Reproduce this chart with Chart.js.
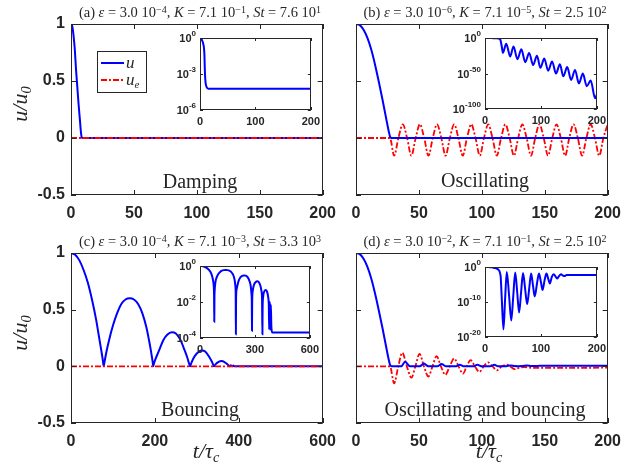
<!DOCTYPE html>
<html>
<head>
<meta charset="utf-8">
<script src="https://cdn.jsdelivr.net/npm/chart.js@4.4.0/dist/chart.umd.min.js"></script>
<style>
  body { margin: 0; background: #fff; }
  #page { position: relative; width: 640px; height: 469px; overflow: hidden; background: #fff; color: #262626; font-family: "Liberation Serif", serif; }
  canvas { position: absolute; }
  .txt { position: absolute; white-space: nowrap; transform: translate(-50%, -50%); line-height: 1; }
  .ttl { font-size: 14.5px; }
  .ann { font-size: 20px; }
  .lab { font-size: 22px; font-style: italic; }
  .rot { transform: translate(-50%, -50%) rotate(-90deg); }
  sup { font-size: 10px; position: relative; top: -0.45em; vertical-align: baseline; line-height: 0; }
  sub { font-size: 0.65em; position: relative; top: 0.3em; vertical-align: baseline; line-height: 0; }
  #legend { position: absolute; left: 97px; top: 51px; width: 48px; height: 40px; border: 1px solid #262626; background: #fff; }
  #legend svg { position: absolute; left: 0; top: 0; }
  #legend span { position: absolute; font-style: italic; font-size: 17px; line-height: 1; }
</style>
</head>
<body>
<div id="page">
  <canvas id="mainA" width="345" height="225" style="left:0;top:0"></canvas>
  <canvas id="mainB" width="330" height="225" style="left:300px;top:0"></canvas>
  <canvas id="mainC" width="345" height="224" style="left:0;top:229px"></canvas>
  <canvas id="mainD" width="330" height="224" style="left:300px;top:229px"></canvas>
  <canvas id="insetA" width="163" height="98" style="left:162px;top:30px"></canvas>
  <canvas id="insetB" width="166" height="97" style="left:445px;top:30px"></canvas>
  <canvas id="insetC" width="162" height="98" style="left:162px;top:258px"></canvas>
  <canvas id="insetD" width="164" height="96" style="left:447px;top:259px"></canvas>

  <div class="txt ttl" style="left:200px;top:12px">(a) <i>ε</i> = 3.0 10<sup>−4</sup>, <i>K</i> = 7.1 10<sup>−1</sup>, <i>St</i> = 7.6 10<sup>1</sup></div>
  <div class="txt ttl" style="left:485px;top:12px">(b) <i>ε</i> = 3.0 10<sup>−6</sup>, <i>K</i> = 7.1 10<sup>−5</sup>, <i>St</i> = 2.5 10<sup>2</sup></div>
  <div class="txt ttl" style="left:200px;top:241px">(c) <i>ε</i> = 3.0 10<sup>−4</sup>, <i>K</i> = 7.1 10<sup>−3</sup>, <i>St</i> = 3.3 10<sup>3</sup></div>
  <div class="txt ttl" style="left:485px;top:241px">(d) <i>ε</i> = 3.0 10<sup>−2</sup>, <i>K</i> = 7.1 10<sup>−1</sup>, <i>St</i> = 2.5 10<sup>2</sup></div>

  <div class="txt ann" style="left:200px;top:181px">Damping</div>
  <div class="txt ann" style="left:485px;top:180px">Oscillating</div>
  <div class="txt ann" style="left:200px;top:409px">Bouncing</div>
  <div class="txt ann" style="left:485px;top:409px">Oscillating and bouncing</div>

  <div class="txt lab rot" style="left:20px;top:104px">u/u<sub>0</sub></div>
  <div class="txt lab rot" style="left:20px;top:333px">u/u<sub>0</sub></div>
  <div class="txt lab" style="left:206px;top:451px">t/τ<sub>c</sub></div>
  <div class="txt lab" style="left:489px;top:451px">t/τ<sub>c</sub></div>

  <div id="legend">
    <svg width="48" height="40">
      <line x1="3" y1="11" x2="26" y2="11" stroke="#0000ff" stroke-width="2"/>
      <line x1="3" y1="28" x2="26" y2="28" stroke="#ff0000" stroke-width="2" stroke-dasharray="6 2 2 2"/>
    </svg>
    <span style="left:28px;top:2px">u</span>
    <span style="left:28px;top:19px">u<sub>e</sub></span>
  </div>
</div>

<script>
// ---- data ----
// (a) damping
const tA = [0, 1, 2, 3, 4, 5, 6, 7, 8, 8.5, 9, 10, 12, 15, 200];
const uA = [1, 0.98, 0.9, 0.78, 0.6, 0.45, 0.3, 0.17, 0.04, 0.005, 1e-3, 2e-4, 8e-5, 6e-5, 6e-5];
const tAe = [0, 200];
const uAe = [0, 0];

// (b) oscillating
const tB = [0, 3, 6, 9, 12, 15, 18, 21, 24, 26, 27, 28, 30, 32, 38, 45, 51, 58, 65, 72, 79, 86, 93, 99,
  106, 113, 120, 127, 134, 140, 147, 154, 161, 168, 175, 182, 189, 197, 200];
const uB = [1, 0.99, 0.95, 0.88, 0.78, 0.65, 0.5, 0.34, 0.17, 0.06, 0.015, 1e-4, 1e-12, 1e-21, 1e-8, 1e-26,
  1e-12, 1e-30, 1e-16, 1e-34, 1e-21, 1e-38, 1e-25, 1e-42, 1e-29, 1e-46, 1e-33, 1e-50, 1e-37, 1e-54,
  1e-41, 1e-59, 1e-45, 1e-64, 1e-50, 1e-68, 1e-60, 1e-85, 1e-80];
const tBe = [0, 27, 30.3, 33.7, 37.2, 40.6, 44, 47.4, 50.8, 54.2, 57.6, 61, 64.4, 67.8, 71.2, 74.6, 78,
  81.4, 84.8, 88.2, 91.6, 95, 98.4, 101.7, 105.1, 108.5, 111.9, 115.3, 118.7, 122.1, 125.5, 128.9,
  132.2, 135.6, 139.1, 142.4, 145.8, 149.2, 152.6, 156, 159.4, 162.8, 166.2, 169.5, 172.9, 176.3,
  179.7, 183.1, 186.5, 189.9, 193.3, 196.6, 200];
const uBe = [0, 0, -0.155, 0, 0.12, 0, -0.155, 0, 0.12, 0, -0.155, 0, 0.12, 0, -0.155, 0, 0.12,
  0, -0.155, 0, 0.12, 0, -0.155, 0, 0.12, 0, -0.155, 0, 0.12, 0, -0.155, 0,
  0.12, 0, -0.155, 0, 0.12, 0, -0.155, 0, 0.12, 0, -0.155, 0, 0.12, 0,
  -0.155, 0, 0.12, 0, -0.155, 0, 0.12];

// (c) bouncing
const tC = [0, 10, 20, 30, 40, 50, 60, 65, 70, 74, 76, 77, 78, 79, 80, 84, 90, 100, 110, 120,
  130, 140, 150, 160, 170, 180, 186, 190, 193, 195, 196, 197, 200, 210, 220, 230, 240, 250, 260, 270,
  277, 281, 283, 284, 285, 288, 295, 305, 312, 320, 330, 336, 339, 341, 342, 345, 352, 359, 366, 372,
  376, 378, 379, 381, 383, 385, 387, 390, 395, 600];
const uC = [1, 0.985, 0.935, 0.85, 0.74, 0.59, 0.41, 0.3, 0.19, 0.1, 0.05, 0.02, 8e-4, 0.02, 0.04, 0.12, 0.22, 0.36, 0.47, 0.55,
  0.59, 0.6, 0.59, 0.55, 0.47, 0.34, 0.23, 0.15, 0.08, 0.03, 1.6e-4, 0.015, 0.05, 0.14, 0.23, 0.28, 0.3, 0.29, 0.24, 0.15,
  0.08, 0.03, 0.01, 2.5e-4, 0.01, 0.04, 0.09, 0.13, 0.14, 0.13, 0.08, 0.04, 0.015, 1.6e-4, 0.004, 0.02, 0.04, 0.046, 0.038, 0.02,
  0.006, 3e-4, 0.002, 0.01, 0.004, 3e-4, 0.007, 4e-4, 2e-4, 2e-4];
const tCe = [0, 600];
const uCe = [0, 0];

// (d) oscillating and bouncing
const tD = [0, 3, 6, 9, 12, 15, 18, 21, 24, 26, 27, 28, 30, 33, 36, 39, 43, 47, 50.5, 54,
  57.5, 61, 64.5, 68, 71.7, 75.4, 79, 82.5, 86, 89, 93, 96.5, 100, 103, 106.5, 110, 113, 116, 119.5, 123,
  126, 129, 132, 136, 139, 142, 146, 150, 200];
const uD = [1, 0.99, 0.95, 0.88, 0.78, 0.65, 0.5, 0.34, 0.17, 0.06, 0.015, 2e-3, 1e-9, 1.5e-18, 1e-9, 0.04, 1e-8, 5e-16, 4e-9, 0.025,
  1e-7, 1e-13, 5e-8, 0.02, 7e-7, 2.5e-11, 6e-7, 0.013, 3e-6, 4e-9, 2e-5, 0.013, 5e-5, 2.5e-7, 1.5e-4, 0.013, 5e-4, 2e-5, 1.5e-3, 0.008,
  2e-3, 5e-4, 2e-3, 0.008, 4e-3, 2.5e-3, 0.005, 0.005, 0.005];
const tDe = [0, 27, 30.3, 33.6, 36.8, 40.4, 44, 47.2, 50.5, 54, 57.5, 60.8, 64, 67.5, 71, 74.5, 78, 81.5, 85, 88,
  91, 94.5, 98, 101.5, 105, 108.5, 112, 116, 120, 123, 126, 130, 134, 138, 145, 200];
const uDe = [0, 0, -0.15, 0, 0.12, 0, -0.1, 0, 0.11, 0, -0.09, 0, 0.09, 0, -0.075, 0, 0.07, 0, -0.065, 0,
  0.055, 0, -0.05, 0, 0.035, 0, -0.035, 0, 0.015, -0.005, -0.025, -0.012, -0.006, -0.012, -0.014, -0.012];

// ticks
const mainYTicks = [-0.5, 0, 0.5, 1];
const mainYLabels = ['-0.5', '0', '0.5', '1'];
const xTicks200 = [0, 50, 100, 150, 200];
const xTicks600 = [0, 200, 400, 600];
const insetX200 = [0, 100, 200];
const insetX600 = [0, 300, 600];
const insetYA = [1e-6, 1e-3, 1];
const insetExpA = ['-6', '-3', '0'];
const insetYB = [1e-100, 1e-50, 1];
const insetExpB = ['-100', '-50', '0'];
const insetYC = [1e-4, 1e-2, 1];
const insetExpC = ['-4', '-2', '0'];
const insetYD = [1e-20, 1e-10, 1];
const insetExpD = ['-20', '-10', '0'];

const BLUE = '#0000ff';
const RED = '#ff0000';
const AXIS = '#262626';
const SANS = '"Liberation Sans", Arial, sans-serif';

function pts(t, u) {
  return t.map((v, i) => ({ x: v, y: u[i] }));
}

// box + inward ticks on all four sides, like the original
const framePlugin = {
  id: 'frame',
  beforeDraw(chart, args, o) {
    if (!o.fill) return;
    const a = chart.chartArea;
    const ctx = chart.ctx;
    ctx.save();
    ctx.fillStyle = '#fff';
    ctx.fillRect(a.left, a.top, a.right - a.left, a.bottom - a.top);
    ctx.restore();
  },
  afterDraw(chart, args, o) {
    const { ctx, chartArea: a } = chart;
    const x = chart.scales.x, y = chart.scales.y;
    const len = o.len || 4;
    ctx.save();
    ctx.strokeStyle = AXIS;
    ctx.lineWidth = 1;
    ctx.strokeRect(Math.round(a.left) + 0.5, Math.round(a.top) + 0.5,
      Math.round(a.right - a.left) - 1, Math.round(a.bottom - a.top) - 1);
    ctx.beginPath();
    x.ticks.forEach(tk => {
      const px = Math.round(x.getPixelForValue(tk.value)) + 0.5;
      ctx.moveTo(px, a.bottom); ctx.lineTo(px, a.bottom - len);
      ctx.moveTo(px, a.top); ctx.lineTo(px, a.top + len);
    });
    y.ticks.forEach(tk => {
      const py = Math.round(y.getPixelForValue(tk.value)) + 0.5;
      ctx.moveTo(a.left, py); ctx.lineTo(a.left + len, py);
      ctx.moveTo(a.right, py); ctx.lineTo(a.right - len, py);
    });
    ctx.stroke();

    // "10" with a raised exponent for the log axes
    if (o.exps) {
      ctx.fillStyle = AXIS;
      ctx.textBaseline = 'middle';
      y.ticks.forEach((tk, i) => {
        const py = y.getPixelForValue(tk.value);
        const right = a.left - 4;
        ctx.font = 'bold 8px ' + SANS;
        ctx.textAlign = 'right';
        const ew = ctx.measureText(o.exps[i]).width;
        ctx.fillText(o.exps[i], right, py - 4);
        ctx.font = 'bold 11px ' + SANS;
        ctx.fillText('10', right - ew, py + 1);
      });
    }
    ctx.restore();
  }
};

function makeChart(id, c) {
  const font = { family: SANS, weight: 'bold', size: c.fontSize };
  return new Chart(document.getElementById(id), {
    type: 'line',
    data: { datasets: c.datasets },
    options: {
      responsive: false,
      animation: false,
      devicePixelRatio: 1,
      layout: { padding: { left: 0, top: c.padTop, right: c.padRight, bottom: 0 } },
      elements: { point: { radius: 0 }, line: { cubicInterpolationMode: 'monotone' } },
      plugins: {
        legend: { display: false },
        tooltip: { enabled: false },
        frame: { len: c.tickLen, fill: c.fill, exps: c.exps }
      },
      scales: {
        x: {
          type: 'linear',
          min: c.xMin, max: c.xMax,
          grid: { display: false, drawTicks: false },
          border: { display: false },
          ticks: {
            font: font, color: AXIS, padding: c.xPad, maxRotation: 0,
            callback: v => String(v)
          },
          afterBuildTicks: s => { s.ticks = c.xTicks.map(v => ({ value: v })); },
          afterFit: s => { s.height = c.xH; }
        },
        y: {
          type: c.yType,
          min: c.yMin, max: c.yMax,
          grid: { display: false, drawTicks: false },
          border: { display: false },
          ticks: {
            display: c.showY, font: font, color: AXIS, padding: c.yPad,
            callback: (v, i) => c.yLabels ? c.yLabels[i] : ''
          },
          afterBuildTicks: s => { s.ticks = c.yTicks.map(v => ({ value: v })); },
          afterFit: s => { s.width = c.yW; }
        }
      }
    },
    plugins: [framePlugin]
  });
}

function blueSet(t, u, order) {
  return { data: pts(t, u), borderColor: BLUE, borderWidth: 2, order: order };
}
function redSet(t, u, order) {
  return { data: pts(t, u), borderColor: RED, borderWidth: 1.8, borderDash: [6, 2, 2, 2], order: order };
}

const mainBase = { fontSize: 16, xPad: 9, yPad: 6, xH: 30, padTop: 24, tickLen: 5, fill: false,
  yType: 'linear', yMin: -0.5, yMax: 1, yTicks: mainYTicks, yLabels: mainYLabels };

makeChart('mainA', Object.assign({}, mainBase, {
  yW: 71, padRight: 16, showY: true, xMin: 0, xMax: 200, xTicks: xTicks200,
  datasets: [blueSet(tA, uA, 2), redSet(tAe, uAe, 1)]
}));
makeChart('mainB', Object.assign({}, mainBase, {
  yW: 56, padRight: 17, showY: false, xMin: 0, xMax: 200, xTicks: xTicks200,
  datasets: [blueSet(tB, uB, 1), redSet(tBe, uBe, 2)]
}));
makeChart('mainC', Object.assign({}, mainBase, {
  yW: 71, padRight: 16, showY: true, xMin: 0, xMax: 600, xTicks: xTicks600,
  datasets: [blueSet(tC, uC, 2), redSet(tCe, uCe, 1)]
}));
makeChart('mainD', Object.assign({}, mainBase, {
  yW: 56, padRight: 17, showY: false, xMin: 0, xMax: 200, xTicks: xTicks200,
  datasets: [blueSet(tD, uD, 1), redSet(tDe, uDe, 2)]
}));

const insetBase = { fontSize: 11, xPad: 5, yPad: 4, xH: 18, padTop: 8, padRight: 12, tickLen: 3, fill: true,
  yType: 'logarithmic', showY: false, yMax: 1, xMin: 0 };

makeChart('insetA', Object.assign({}, insetBase, {
  yW: 38, xMax: 200, xTicks: insetX200, yMin: 1e-6, yTicks: insetYA, exps: insetExpA,
  datasets: [blueSet(tA, uA, 1)]
}));
makeChart('insetB', Object.assign({}, insetBase, {
  yW: 40, xMax: 200, xTicks: insetX200, yMin: 1e-100, yTicks: insetYB, exps: insetExpB,
  datasets: [blueSet(tB, uB, 1)]
}));
makeChart('insetC', Object.assign({}, insetBase, {
  yW: 38, xMax: 600, xTicks: insetX600, yMin: 1e-4, yTicks: insetYC, exps: insetExpC,
  datasets: [blueSet(tC, uC, 1)]
}));
makeChart('insetD', Object.assign({}, insetBase, {
  yW: 38, xMax: 200, xTicks: insetX200, yMin: 1e-20, yTicks: insetYD, exps: insetExpD,
  datasets: [blueSet(tD, uD, 1)]
}));
</script>
</body>
</html>
